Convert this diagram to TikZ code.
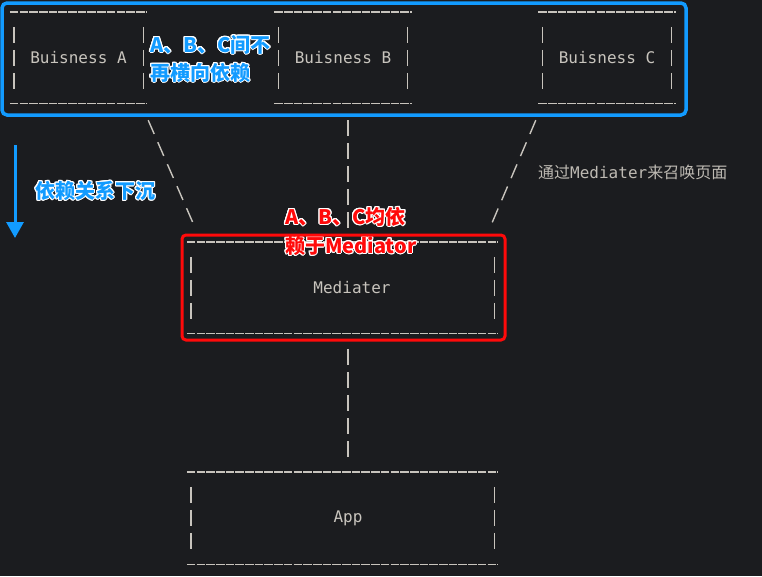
\documentclass[tikz,border=0pt]{standalone}
\usepackage{fontspec}
\setmonofont{DejaVu Sans Mono}
\newfontfamily\cjk{Noto Sans CJK SC}
\usepackage{contour}
\contourlength{1pt}
\usetikzlibrary{arrows.meta}

\definecolor{termbg}{HTML}{1B1C1F}
\definecolor{asciigray}{HTML}{C8C4BD}
\definecolor{notegray}{HTML}{BEBAB3}
\definecolor{markblue}{HTML}{129BFF}
\definecolor{markred}{HTML}{FF0A0A}

\tikzset{
  termtext/.style={text=asciigray,font=\ttfamily\fontsize{16}{19}\selectfont,inner sep=0pt},
  asciibox/.style={minimum width=137pt,minimum height=91pt,inner sep=0pt},
  underscore/.style={draw=asciigray,line width=1.4pt,dash pattern=on 8.6pt off 1.1pt},
  pipe/.style={draw=asciigray,line width=1.4pt,dash pattern=on 16.5pt off 6.5pt},
  pipeline/.style={draw=asciigray,line width=1.4pt,dash pattern=on 16pt off 7pt},
  slashline/.style={draw=asciigray,line width=1.4pt,dash pattern=on 15pt off 9pt},
  noteblue/.style={text=markblue,font=\cjk\bfseries\fontsize{20}{28}\selectfont,inner sep=0pt,align=left},
  notered/.style={text=markred,font=\cjk\bfseries\fontsize{20}{29}\selectfont,inner sep=0pt,align=left},
}

% frame of one ascii box: underscores on top and bottom, pipes at the sides
\newcommand\asciiframe[1]{%
  \draw[underscore] (#1.north west) -- (#1.north east);
  \draw[underscore] (#1.south west) -- (#1.south east);
  \draw[pipe] ([shift={(4,15)}]#1.north west) -- ([shift={(4,-14)}]#1.south west);
  \draw[pipe] ([shift={(-4,15)}]#1.north east) -- ([shift={(-4,-14)}]#1.south east);
}

\begin{document}
\begin{tikzpicture}[x=1pt,y=-1pt]
\fill[termbg] (0,0) rectangle (762,576);
\useasboundingbox (0,0) rectangle (762,576);
% business boxes
\node[asciibox,termtext] (busA) at (78.5,57.5) {Buisness A};
\node[asciibox,termtext] (busB) at (343,57.5) {Buisness B};
\node[asciibox,termtext] (busC) at (607,57.5) {Buisness C};
\asciiframe{busA}
\asciiframe{busB}
\asciiframe{busC}
% mediater and app
\node[asciibox,minimum width=311pt] (med) at (342.5,287.5) {};
\node[termtext] (medtext) at ([xshift=9.5]med.center) {Mediater};
\asciiframe{med}
\node[asciibox,minimum width=311pt,minimum height=92pt] (app) at (342.5,518) {};
\node[termtext] (apptext) at ([xshift=5.5]app.center) {App};
\asciiframe{app}
% dependencies
\draw[slashline] ([shift={(1,17)}]busA.south east) -- ([shift={(7,-17)}]med.north west);
\draw[pipeline] ([shift={(5,17)}]busB.south) -- ([shift={(5.5,-14)}]med.north);
\draw[slashline] ([shift={(-2.5,17)}]busC.south west) -- ([shift={(-7,-17)}]med.north east);
\draw[pipeline] ([shift={(5.5,16)}]med.south) -- ([shift={(5.5,-15)}]app.north);
\node[anchor=west,text=notegray,inner sep=0pt] (calltext) at (538,172)
  {\fontsize{16}{19}\selectfont\cjk 通过\ttfamily Mediater\cjk 来召唤页面};
% marks
\draw[markblue,line width=3.5pt,rounded corners=5pt] (2,3) rectangle (686,115);
\coordinate (sinktop) at (15,145);
\coordinate (sinkbot) at (15,238);
\draw[markblue,line width=3pt,-{Triangle[width=17pt,length=16pt]}] (sinktop) -- (sinkbot);
\node[noteblue,anchor=west] (sinktext) at (35,191) {\contour{white}{依赖关系下沉}};
\node[noteblue,anchor=west] (crossnote) at (150,59) {\contour{white}{A、B、C间不}\\\contour{white}{再横向依赖}};
\node[notered,anchor=west] (mednote) at (285,231.5) {\contour{white}{A、B、C均依}\\\contour{white}{赖于Mediator}};
\draw[markred,line width=3pt,rounded corners=4pt] (182,235) rectangle (505,340);
\end{tikzpicture}
\end{document}
